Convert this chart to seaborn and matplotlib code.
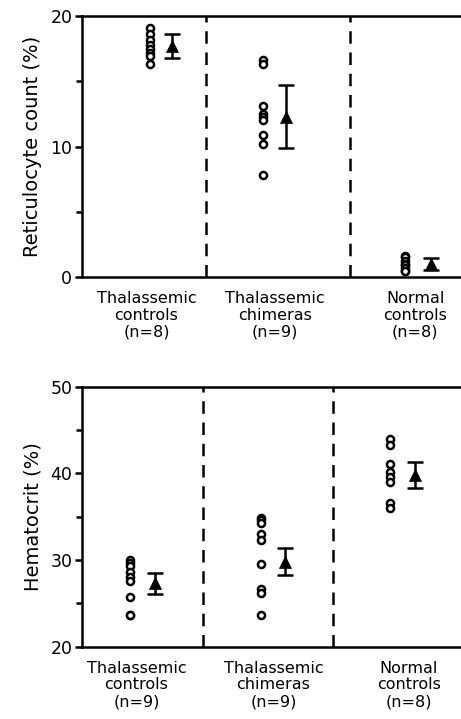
import numpy as np
import pandas as pd
import matplotlib
matplotlib.use("Agg")
import matplotlib.pyplot as plt
import seaborn as sns
from matplotlib.ticker import MultipleLocator

sns.set_theme(style="ticks")
plt.rcParams["font.family"] = ["DejaVu Sans"]
plt.rcParams.update({
    "text.color": "black", "axes.labelcolor": "black", "axes.edgecolor": "black",
    "xtick.color": "black", "ytick.color": "black",
})

# ── Data ──────────────────────────────────────────────────────────────────────
groups = ["Thalassemic\ncontrols", "Thalassemic\nchimeras", "Normal\ncontrols"]
retic_n = [8, 9, 8]
hct_n = [9, 9, 8]

retic_thal_ctrl = [19.1, 18.6, 18.2, 17.8, 17.5, 17.2, 16.9, 16.3]
retic_chimera = [16.6, 16.3, 13.1, 12.5, 12.3, 12.0, 10.9, 10.2, 7.8]
retic_normal = [1.6, 1.5, 1.2, 1.0, 0.9, 0.7, 0.5, 0.5]
retic_mean = [17.7, 12.3, 1.0]
retic_sd = [0.95, 2.4, 0.45]

hct_thal_ctrl = [30.0, 29.6, 29.3, 28.6, 28.0, 27.6, 25.7, 23.7, 23.7]
hct_chimera = [34.9, 34.6, 34.3, 33.0, 32.3, 29.5, 26.6, 26.2, 23.7]
hct_normal = [44.0, 43.3, 41.1, 40.2, 39.6, 39.0, 36.6, 36.0]
hct_mean = [27.3, 29.8, 39.8]
hct_sd = [1.25, 1.55, 1.5]

# ── Layout (x in "section" units, one unit = first section width) ────────────
LAYOUT = {
    "top": dict(pos=[0.178, 0.6147, 0.822, 0.363], xlim=(0, 3.06),
                dots=[0.55, 1.46, 2.61], means=[0.73, 1.65, 2.82],
                seps=[1.0, 2.16], labels=[0.52, 1.56, 2.69]),
    "bottom": dict(pos=[0.178, 0.1006, 0.822, 0.3616], xlim=(0, 3.13),
                   dots=[0.40, 1.48, 2.54], means=[0.60, 1.68, 2.75],
                   seps=[1.0, 2.07], labels=[0.45, 1.58, 2.70]),
}


def draw_panel(ax, lay, values, means, sds, ns, ylim, major, ylabel):
    rows = []
    for x, vals in zip(lay["dots"], values):
        rows += [{"x": x, "y": v} for v in vals]
    df = pd.DataFrame(rows)
    sns.scatterplot(data=df, x="x", y="y", ax=ax, marker="o", s=26,
                    facecolor="white", edgecolor="black", linewidth=1.8,
                    zorder=3, clip_on=False)
    mdf = pd.DataFrame({"x": lay["means"], "y": means})
    sns.scatterplot(data=mdf, x="x", y="y", ax=ax, marker="^", s=75,
                    color="black", edgecolor="black", linewidth=0.5, zorder=4)
    ax.errorbar(lay["means"], means, yerr=sds, fmt="none", ecolor="black",
                elinewidth=1.8, capsize=6, capthick=1.8, zorder=3)

    for s in lay["seps"]:
        ax.axvline(s, color="black", linewidth=1.8, linestyle=(0, (5, 3.5)))

    ax.set_xlim(*lay["xlim"])
    ax.set_ylim(*ylim)
    ax.yaxis.set_major_locator(MultipleLocator(major))
    ax.yaxis.set_minor_locator(MultipleLocator(major / 2))
    ax.tick_params(axis="y", which="major", length=5, width=1.8, labelsize=12.5, pad=2)
    ax.tick_params(axis="y", which="minor", length=4, width=1.8)
    ax.set_xticks(lay["labels"])
    ax.set_xticklabels([f"{g}\n(n={n})" for g, n in zip(groups, ns)],
                       fontsize=11.5, linespacing=1.15)
    ax.tick_params(axis="x", length=0, pad=10)
    ax.set_xlabel("")
    ax.set_ylabel(ylabel, fontsize=14, labelpad=6)
    for side in ["left", "bottom", "top"]:
        ax.spines[side].set_linewidth(1.8)
        ax.spines[side].set_visible(True)
    ax.spines["right"].set_visible(False)


fig = plt.figure(figsize=(4.61, 7.19), dpi=100)
ax_top = fig.add_axes(LAYOUT["top"]["pos"])
ax_bot = fig.add_axes(LAYOUT["bottom"]["pos"])

draw_panel(ax_top, LAYOUT["top"], [retic_thal_ctrl, retic_chimera, retic_normal],
           retic_mean, retic_sd, retic_n, (0, 20), 10, "Reticulocyte count (%)")
draw_panel(ax_bot, LAYOUT["bottom"], [hct_thal_ctrl, hct_chimera, hct_normal],
           hct_mean, hct_sd, hct_n, (20, 50), 10, "Hematocrit (%)")

fig.savefig("out.png", dpi=100)
